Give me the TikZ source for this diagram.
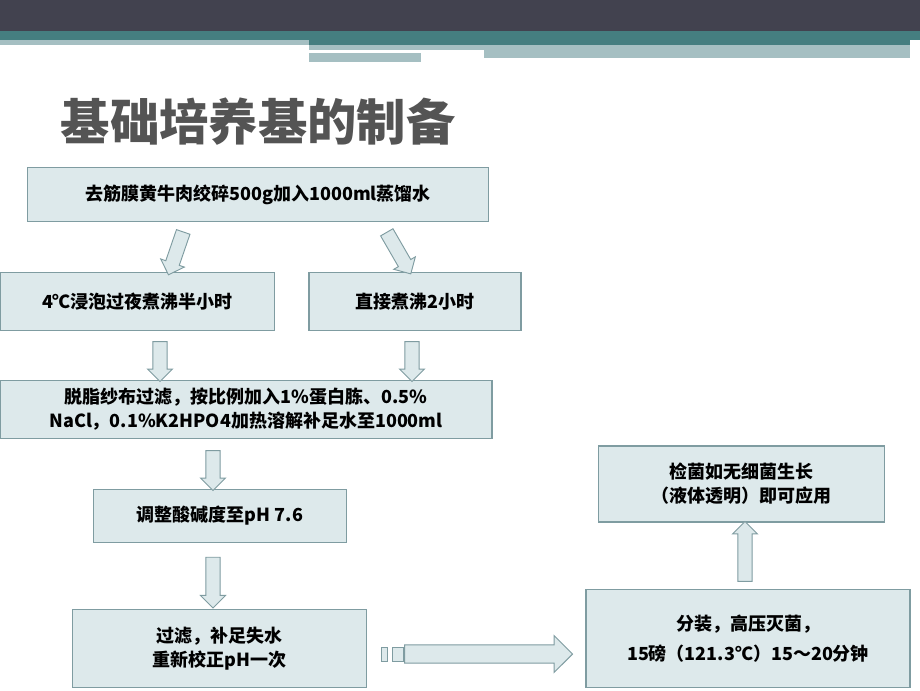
\documentclass[tikz,border=0pt]{standalone}
\usepackage{fontspec}
\setmainfont{Noto Sans CJK SC}
\usetikzlibrary{shapes.arrows}
\definecolor{boxFill}{HTML}{DDE9EB}
\definecolor{boxStroke}{HTML}{7F9CA1}
\definecolor{barDark}{HTML}{42424F}
\definecolor{barTeal}{HTML}{457E80}
\definecolor{barLight}{HTML}{A5BFC2}
\definecolor{titleGray}{HTML}{545454}

\begin{document}
\begin{tikzpicture}[x=0.75pt, y=-0.75pt,
  stepbox/.style = {draw=boxStroke, line width=0.8pt, fill=boxFill, inner sep=2pt,
                    font=\bfseries\fontsize{13.5}{18}\selectfont, align=center},
  blockarr/.style = {single arrow, draw=boxStroke, line width=0.7pt, fill=boxFill,
                     inner sep=5pt, single arrow head extend=4pt,
                     single arrow head indent=0pt},
]
\useasboundingbox (0,0) rectangle (920,690);

% ----------------------------------------------------------------
% Header bars
% ----------------------------------------------------------------
\fill[barDark]  (0,0) rectangle (920,31);
\fill[barTeal]  (0,31) rectangle (920,40);
\fill[barLight] (0,40) rectangle (309,45);
\fill[barTeal]  (309,40) rectangle (910,45);
\fill[barLight] (309,45) rectangle (910,50);
\fill[barLight] (309,53) rectangle (421,62);
\fill[barLight] (484,50) rectangle (910,58);

\node[font=\bfseries\fontsize{37}{42}\selectfont, text=titleGray, anchor=west]
  (title) at (56,122) {基础培养基的制备};

% ----------------------------------------------------------------
% Boxes (centre, size in px)
% ----------------------------------------------------------------
\node[stepbox, minimum width=346pt, minimum height=41pt] (mince) at (258,194.5)
  {去筋膜黄牛肉绞碎500g加入1000ml蒸馏水};
\node[stepbox, minimum width=206pt, minimum height=43pt] (soak) at (137.5,301.5)
  {4℃浸泡过夜煮沸半小时};
\node[stepbox, minimum width=159pt, minimum height=43pt] (boil) at (415,301.5)
  {直接煮沸2小时};
\node[stepbox, minimum width=369pt, minimum height=43pt] (filt) at (246,409.5)
  {脱脂纱布过滤，按比例加入1\%蛋白胨、0.5\%\\NaCl，0.1\%K2HPO4加热溶解补足水至1000ml};
\node[stepbox, minimum width=190pt, minimum height=40pt] (ph) at (220,516)
  {调整酸碱度至pH 7.6};
\node[stepbox, minimum width=221pt, minimum height=58pt] (refilt) at (219.5,648.5)
  {过滤，补足失水\\重新校正pH一次};
\node[stepbox, minimum width=243pt, minimum height=73pt] (auto) at (748,638.5)
  {分装，高压灭菌，\\[5pt]15磅（121.3℃）15～20分钟};
\node[stepbox, minimum width=215pt, minimum height=57pt] (check) at (741.5,484)
  {检菌如无细菌生长\\（液体透明）即可应用};

% ----------------------------------------------------------------
% Block arrows
% ----------------------------------------------------------------
\node[blockarr, minimum height=34pt, rotate=-109] (a1) at (177,250) {};
\node[blockarr, minimum height=36pt, rotate=-60]  (a2) at (397,250) {};
\node[blockarr, minimum height=30pt, rotate=-90]  (a3) at (160,358) {};
\node[blockarr, minimum height=30pt, rotate=-90]  (a4) at (412,358) {};
\node[blockarr, minimum height=30pt, rotate=-90]  (a5) at (213,467) {};
\node[blockarr, minimum height=38pt, rotate=-90]  (a6) at (213,579) {};
\node[blockarr, minimum height=126pt, inner sep=6.5pt,
      single arrow head extend=7pt]              (a7) at (484,654) {};
\node[blockarr, minimum height=45pt, rotate=90]   (a8) at (745,555) {};
\path[draw=boxStroke, line width=0.7pt, fill=boxFill]
  (381,647) rectangle (387,661) (392,647) rectangle (403,661);

\end{tikzpicture}
\end{document}
